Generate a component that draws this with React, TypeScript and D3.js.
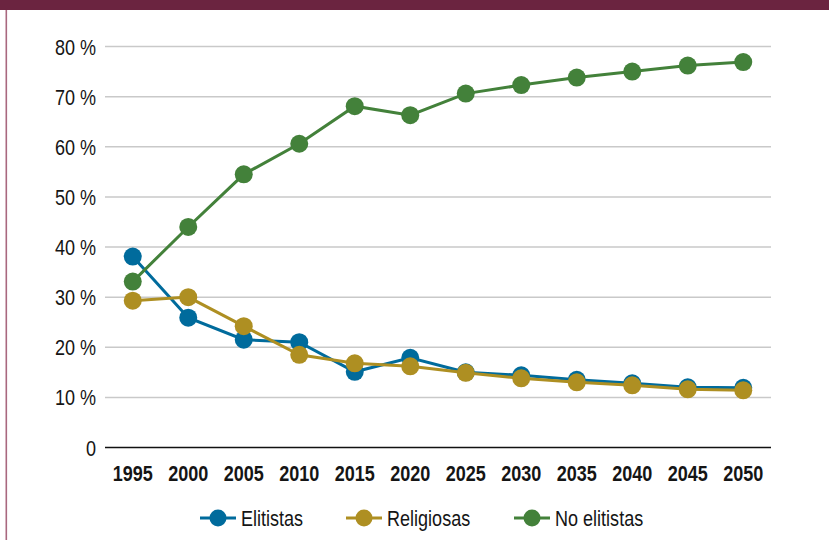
import React from "react";
import * as d3 from "d3";

const years = ["1995", "2000", "2005", "2010", "2015", "2020", "2025", "2030", "2035", "2040", "2045", "2050"];
const elitistas = [38.1, 25.9, 21.5, 21.0, 15.1, 17.9, 15.0, 14.4, 13.5, 12.8, 12.0, 11.9];
const religiosas = [29.3, 30.0, 24.2, 18.5, 16.8, 16.2, 14.9, 13.8, 13.0, 12.4, 11.6, 11.4];
const noElitistas = [33.1, 44.0, 54.5, 60.6, 68.1, 66.3, 70.6, 72.3, 73.8, 75.0, 76.2, 76.9];
const yTicks = [0, 10, 20, 30, 40, 50, 60, 70, 80];

const seriesList = [
  { name: "Elitistas", values: elitistas, color: "#006b9c", legendX: 200 },
  { name: "Religiosas", values: religiosas, color: "#ae8f22", legendX: 346 },
  { name: "No elitistas", values: noElitistas, color: "#43813a", legendX: 514 },
];

const W = 829;
const H = 540;
const left = 105;
const right = 771;
const top = 46.5;
const bottom = 447.5;
const FONT = "'Liberation Sans', Arial, sans-serif";
// Narrow face emulated by squeezing Liberation Sans horizontally
const NARROW = 0.82;

function NarrowText(props: {
  x: number;
  y: number;
  anchor: "start" | "middle" | "end";
  bold?: boolean;
  children: React.ReactNode;
}) {
  return (
    <text
      transform={`translate(${props.x},${props.y}) scale(${NARROW},1)`}
      textAnchor={props.anchor}
      fontSize={22}
      fontWeight={props.bold ? "bold" : "normal"}
      fill="#151515"
    >
      {props.children}
    </text>
  );
}

export default function App() {
  const x = d3.scaleBand<string>().domain(years).range([left, right]).padding(0);
  const y = d3.scaleLinear().domain([0, 80]).range([bottom, top]);
  const cx = (i: number) => (x(years[i]) ?? 0) + x.bandwidth() / 2;
  const line = d3
    .line<number>()
    .x((_, i) => cx(i))
    .y((d) => y(d));

  return (
    <svg
      width={W}
      height={H}
      style={{ position: "absolute", left: 0, top: 0, background: "#fff" }}
      fontFamily={FONT}
    >
      <rect x={0} y={0} width={W} height={10} fill="#6b2440" />
      <rect x={5.5} y={10} width={1.6} height={H - 10} fill="#a9687f" />

      {yTicks.map((t) => (
        <g key={t}>
          {t > 0 && (
            <line x1={left} x2={right} y1={y(t)} y2={y(t)} stroke="#c9c9c9" strokeWidth={1.5} />
          )}
          <NarrowText x={96} y={y(t) + 8} anchor="end">
            {t === 0 ? "0" : `${t} %`}
          </NarrowText>
        </g>
      ))}
      <line x1={left} x2={right} y1={bottom} y2={bottom} stroke="#111" strokeWidth={1.6} />

      {years.map((yr, i) => (
        <NarrowText key={yr} x={cx(i)} y={481} anchor="middle" bold>
          {yr}
        </NarrowText>
      ))}

      {seriesList.map((s) => (
        <g key={s.name}>
          <path d={line(s.values) ?? ""} fill="none" stroke={s.color} strokeWidth={3} />
          {s.values.map((v, i) => (
            <circle key={i} cx={cx(i)} cy={y(v)} r={9} fill={s.color} />
          ))}
        </g>
      ))}

      {seriesList.map((s) => (
        <g key={s.name} transform={`translate(${s.legendX},518)`}>
          <line x1={0} x2={36} y1={0} y2={0} stroke={s.color} strokeWidth={3} />
          <circle cx={18} cy={0} r={8.5} fill={s.color} />
          <NarrowText x={41} y={8} anchor="start">
            {s.name}
          </NarrowText>
        </g>
      ))}
    </svg>
  );
}
